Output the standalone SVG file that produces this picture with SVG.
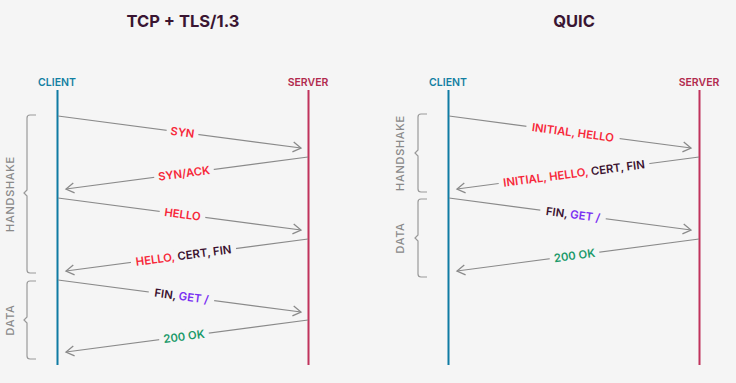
<svg xmlns="http://www.w3.org/2000/svg" width="736" height="383" viewBox="0 0 736 383">
<style>
  text { font-family: Inter, "Open Sans", sans-serif; font-weight: 600; }
  .title { font-size: 16.5px; font-weight: 700; fill: #3a1532; text-anchor: middle; }
  .client { font-size: 10.5px; fill: #137fa2; text-anchor: middle; }
  .server { font-size: 10.5px; fill: #b12a4e; text-anchor: middle; }
  .cl { stroke: #0f7ba3; stroke-width: 2; }
  .sv { stroke: #c0335c; stroke-width: 2; }
  .msg { stroke: #8a8a8a; stroke-width: 1.2; fill: none; marker-end: url(#arr); }
  .brace { stroke: #9a9a9a; stroke-width: 1.2; fill: none; }
  .phase { font-size: 11px; font-weight: 500; fill: #8a8a8a; text-anchor: middle; letter-spacing: 0.7px; }
  .lbl { font-size: 11.3px; text-anchor: middle; }
  .bg { fill: #f5f5f5; }
  .r { fill: #f7283a; }
  .d { fill: #3b1230; }
  .p { fill: #7a2ff2; }
  .g { fill: #1b9a6a; }
</style>
<defs>
  <marker id="arr" markerUnits="userSpaceOnUse" markerWidth="12" markerHeight="12" viewBox="-10 -6 12 12" refX="0" refY="0" orient="auto">
    <path d="M-8,-5 L0,0 L-8,5" fill="none" stroke="#8a8a8a" stroke-width="1.3"/>
  </marker>
</defs>
<rect width="736" height="383" fill="#f5f5f5"/>

<g id="tcp-panel">
  <text class="title" x="183" y="27">TCP + TLS/1.3</text>
  <g id="tcp-client">
    <text class="client" x="57" y="86">CLIENT</text>
    <line class="cl" x1="57.5" y1="90" x2="57.5" y2="365"/>
  </g>
  <g id="tcp-server">
    <text class="server" x="308" y="86">SERVER</text>
    <line class="sv" x1="308.5" y1="90" x2="308.5" y2="365"/>
  </g>
  <g id="tcp-handshake">
    <path class="brace" d="M36,115 H30 Q27,115 27,118 V190 L24,193 L27,196 V270 Q27,273 30,273 H36"/>
    <text class="phase" transform="translate(14,194) rotate(-90)">HANDSHAKE</text>
  </g>
  <g id="tcp-data">
    <path class="brace" d="M36,281 H30 Q27,281 27,284 V317 L24,320 L27,323 V356 Q27,359 30,359 H36"/>
    <text class="phase" transform="translate(14,320) rotate(-90)">DATA</text>
  </g>
</g>

<g id="quic-panel">
  <text class="title" x="574" y="27">QUIC</text>
  <g id="quic-client">
    <text class="client" x="448" y="86">CLIENT</text>
    <line class="cl" x1="448.5" y1="90" x2="448.5" y2="365"/>
  </g>
  <g id="quic-server">
    <text class="server" x="699" y="86">SERVER</text>
    <line class="sv" x1="699.5" y1="90" x2="699.5" y2="365"/>
  </g>
  <g id="quic-handshake">
    <path class="brace" d="M427,114 H421 Q418,114 418,117 V150 L415,153 L418,156 V189 Q418,192 421,192 H427"/>
    <text class="phase" transform="translate(404,153) rotate(-90)">HANDSHAKE</text>
  </g>
  <g id="quic-data">
    <path class="brace" d="M427,199 H421 Q418,199 418,202 V235 L415,238 L418,241 V274 Q418,277 421,277 H427"/>
    <text class="phase" transform="translate(404,238) rotate(-90)">DATA</text>
  </g>
</g>

<g id="connectors">
  <line class="msg" x1="58" y1="116" x2="301" y2="148"/>
  <line class="msg" x1="308" y1="157" x2="66" y2="189"/>
  <line class="msg" x1="58" y1="198" x2="301" y2="230"/>
  <line class="msg" x1="308" y1="239" x2="66" y2="271"/>
  <line class="msg" x1="58" y1="280" x2="301" y2="312"/>
  <line class="msg" x1="308" y1="320" x2="66" y2="352"/>

  <line class="msg" x1="449" y1="116" x2="691" y2="148"/>
  <line class="msg" x1="699" y1="157" x2="457" y2="189"/>
  <line class="msg" x1="449" y1="198" x2="691" y2="230"/>
  <line class="msg" x1="699" y1="239" x2="457" y2="271"/>

  <g transform="translate(182.5,132.3) rotate(7.5)">
    <rect class="bg" x="-16" y="-7" width="32" height="14"/>
    <text class="lbl" y="4"><tspan class="r">SYN</tspan></text>
  </g>
  <g transform="translate(184,173.4) rotate(-7.5)">
    <rect class="bg" x="-30" y="-7" width="60" height="14"/>
    <text class="lbl" y="4"><tspan class="r">SYN/ACK</tspan></text>
  </g>
  <g transform="translate(182.5,214.3) rotate(7.5)">
    <rect class="bg" x="-23" y="-7" width="46" height="14"/>
    <text class="lbl" y="4"><tspan class="r">HELLO</tspan></text>
  </g>
  <g transform="translate(183.5,255.5) rotate(-7.5)">
    <rect class="bg" x="-53" y="-7" width="106" height="14"/>
    <text class="lbl" y="4"><tspan class="r">HELLO, </tspan><tspan class="d">CERT, FIN</tspan></text>
  </g>
  <g transform="translate(181.5,296.2) rotate(7.5)">
    <rect class="bg" x="-33" y="-7" width="66" height="14"/>
    <text class="lbl" y="4"><tspan class="d">FIN, </tspan><tspan class="p">GET /</tspan></text>
  </g>
  <g transform="translate(184,336.4) rotate(-7.5)">
    <rect class="bg" x="-25" y="-7" width="50" height="14"/>
    <text class="lbl" y="4"><tspan class="g">200 OK</tspan></text>
  </g>

  <g transform="translate(573,132.5) rotate(7.5)">
    <rect class="bg" x="-47" y="-7" width="94" height="14"/>
    <text class="lbl" y="4"><tspan class="r">INITIAL, HELLO</tspan></text>
  </g>
  <g transform="translate(574,173.5) rotate(-7.5)">
    <rect class="bg" x="-76" y="-7" width="152" height="14"/>
    <text class="lbl" y="4"><tspan class="r">INITIAL, HELLO, </tspan><tspan class="d">CERT, FIN</tspan></text>
  </g>
  <g transform="translate(573,214.5) rotate(7.5)">
    <rect class="bg" x="-33" y="-7" width="66" height="14"/>
    <text class="lbl" y="4"><tspan class="d">FIN, </tspan><tspan class="p">GET /</tspan></text>
  </g>
  <g transform="translate(574.5,255.5) rotate(-7.5)">
    <rect class="bg" x="-25" y="-7" width="50" height="14"/>
    <text class="lbl" y="4"><tspan class="g">200 OK</tspan></text>
  </g>
</g>
</svg>
